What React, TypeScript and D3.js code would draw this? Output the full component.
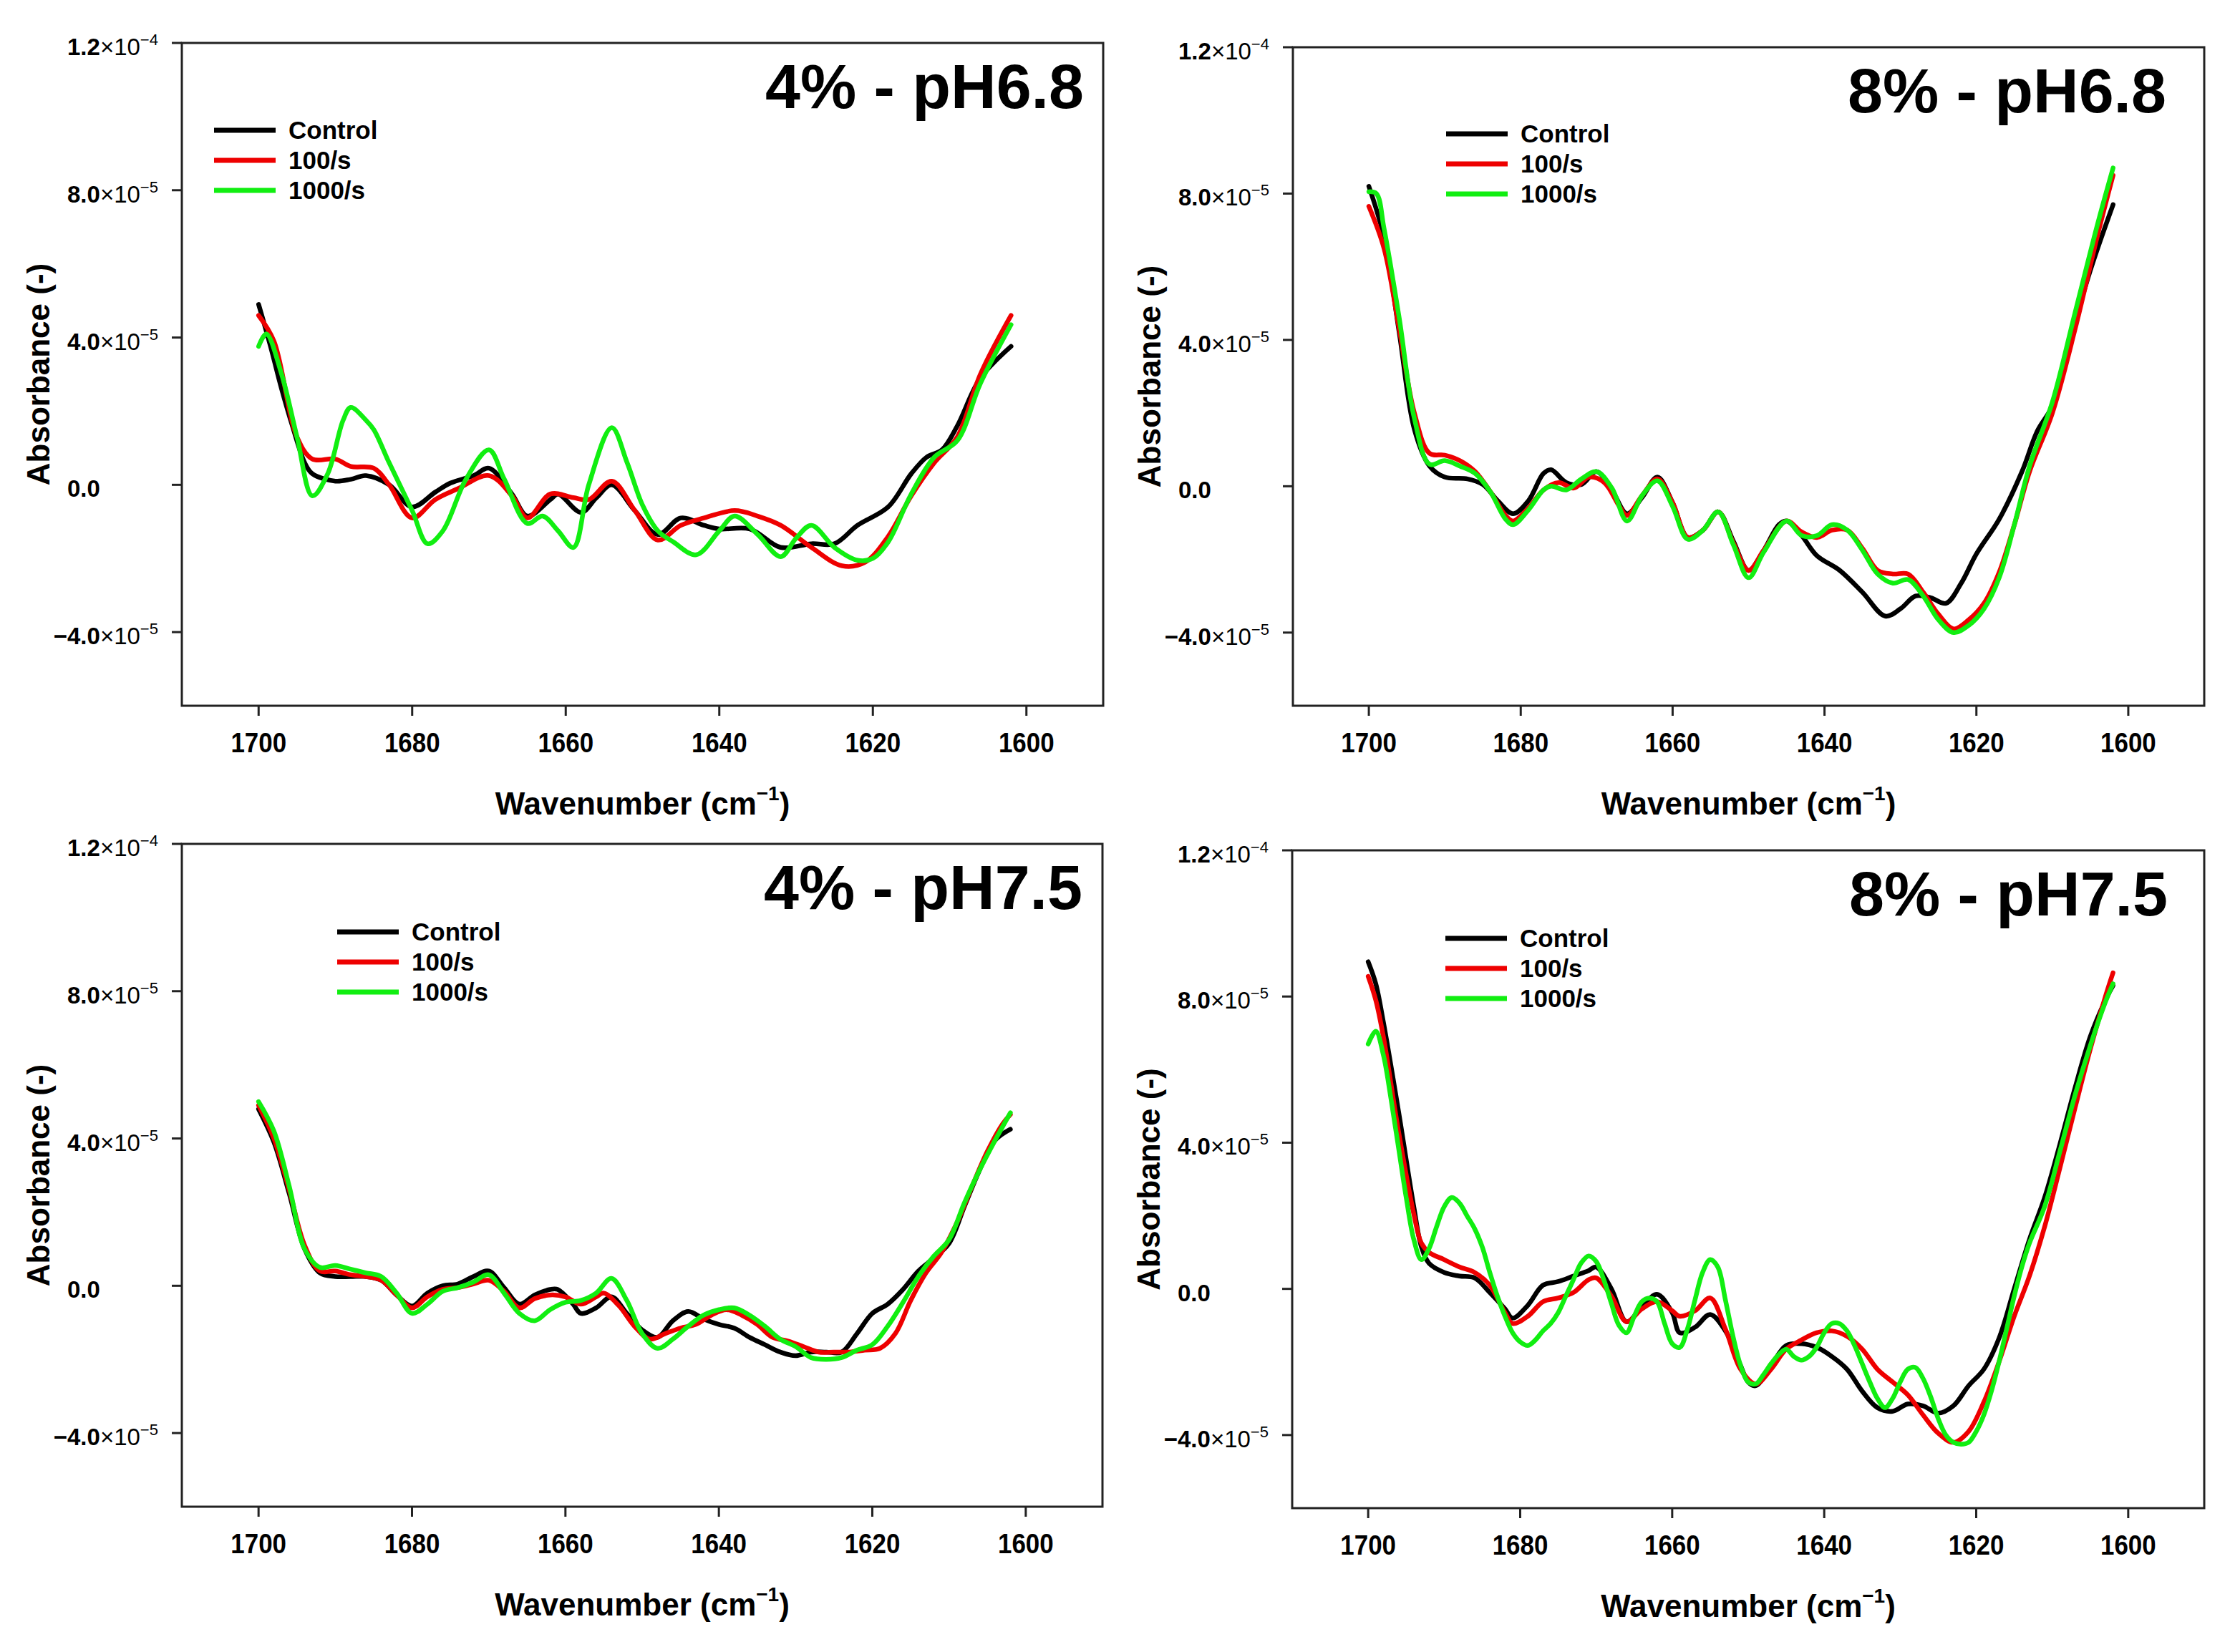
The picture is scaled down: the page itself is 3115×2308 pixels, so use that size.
import * as d3 from "d3";

// FTIR amide I spectra, absorbance in units of 1e-5
type Pt = [number, number];

const SERIES_NAMES = ["Control", "100/s", "1000/s"];
const PANEL_TITLES = ["4% - pH6.8", "8% - pH6.8", "4% - pH7.5", "8% - pH7.5"];

const X_TICKS = [1700, 1680, 1660, 1640, 1620, 1600];
const Y_TICKS = [-4, 0, 4, 8, 12];
const Y_MANTISSA = ["4.0", "0.0", "4.0", "8.0", "1.2"];
const Y_NEGATIVE = [true, false, false, false, false];
const Y_EXPONENT = ["−5", "", "−5", "−5", "−4"];

// 4% - pH6.8
const tlControl: Pt[] = [
  [1700, 4.9], [1698.5, 3.8], [1697, 2.6], [1695.6, 1.6], [1694, 0.6], [1693, 0.3],
  [1690, 0.1], [1688, 0.15], [1686, 0.25], [1683, 0.0], [1680, -0.6], [1677, -0.2],
  [1675, 0.05], [1672, 0.25], [1670, 0.45], [1667, -0.25], [1665, -0.85], [1662, -0.4],
  [1661, -0.25], [1658, -0.75], [1656, -0.35], [1654, 0.0], [1651, -0.7], [1648, -1.35],
  [1645, -0.9], [1642, -1.1], [1640, -1.2], [1636, -1.2], [1632, -1.7], [1628, -1.6],
  [1625, -1.6], [1622, -1.1], [1618, -0.6], [1615, 0.3], [1613, 0.75], [1611, 0.95],
  [1609, 1.6], [1606, 2.9], [1602, 3.76],
];
const tl100: Pt[] = [
  [1700, 4.6], [1698, 3.9], [1695, 1.3], [1693, 0.7], [1690, 0.7], [1688, 0.5],
  [1685, 0.45], [1683, 0.0], [1680, -0.9], [1677, -0.4], [1674, -0.1], [1670, 0.25],
  [1667, -0.3], [1665, -0.9], [1662, -0.25], [1659, -0.35], [1657, -0.4], [1654, 0.1],
  [1651, -0.7], [1648, -1.5], [1645, -1.1], [1642, -0.9], [1638, -0.7], [1635, -0.85],
  [1632, -1.1], [1628, -1.7], [1624, -2.2], [1621, -2.1], [1618, -1.4], [1615, -0.3],
  [1612, 0.6], [1609, 1.3], [1606, 3.0], [1602, 4.6],
];
const tl1000: Pt[] = [
  [1700, 3.76], [1699, 4.1], [1697, 3.0], [1695, 1.3], [1693, -0.3], [1691, 0.3],
  [1689, 1.75], [1688, 2.1], [1686, 1.75], [1685, 1.5], [1683, 0.6], [1680, -0.7],
  [1678, -1.6], [1676, -1.25], [1673, 0.15], [1670, 0.95], [1668, 0.15], [1665, -1.05],
  [1663, -0.85], [1661, -1.25], [1659, -1.7], [1657, 0.0], [1654, 1.55], [1652, 0.6],
  [1650, -0.55], [1648, -1.25], [1646, -1.55], [1643, -1.9], [1640, -1.25], [1638, -0.85],
  [1635, -1.35], [1632, -1.95], [1630, -1.45], [1628, -1.1], [1625, -1.7], [1622, -2.05],
  [1620, -2.0], [1618, -1.55], [1615, -0.25], [1612, 0.75], [1609, 1.2], [1606, 2.75],
  [1602, 4.35],
];

// 8% - pH6.8
const trControl: Pt[] = [
  [1700, 8.2], [1698, 6.8], [1696, 4.2], [1694, 1.55], [1692, 0.55], [1690, 0.25],
  [1687, 0.2], [1685, 0.05], [1683, -0.4], [1681, -0.75], [1679, -0.4], [1677, 0.35],
  [1676, 0.45], [1674, 0.1], [1672, 0.05], [1670, 0.4], [1668, -0.1], [1666, -0.75],
  [1664, -0.3], [1662, 0.25], [1660, -0.45], [1658, -1.4], [1656, -1.2], [1654, -0.7],
  [1652, -1.5], [1650, -2.3], [1648, -1.75], [1646, -1.05], [1645, -0.95], [1643, -1.35],
  [1641, -1.9], [1638, -2.3], [1635, -2.9], [1632, -3.55], [1630, -3.35], [1628, -3.0],
  [1626, -3.05], [1624, -3.2], [1622, -2.65], [1620, -1.85], [1617, -0.9], [1614, 0.4],
  [1612, 1.5], [1610, 2.2], [1608, 3.75], [1605, 5.9], [1602, 7.7],
];
const tr100: Pt[] = [
  [1700, 7.65], [1698, 6.5], [1696, 4.3], [1694, 2.0], [1692, 0.9], [1690, 0.85],
  [1688, 0.7], [1686, 0.4], [1684, -0.15], [1682, -0.8], [1681, -0.95], [1679, -0.6],
  [1677, -0.1], [1675, 0.1], [1673, -0.05], [1671, 0.25], [1669, 0.1], [1667, -0.55],
  [1666, -0.8], [1664, -0.25], [1662, 0.2], [1660, -0.45], [1658, -1.4], [1656, -1.2],
  [1654, -0.7], [1652, -1.55], [1650, -2.3], [1648, -1.75], [1645, -0.95], [1643, -1.25],
  [1641, -1.4], [1639, -1.2], [1637, -1.2], [1635, -1.7], [1633, -2.3], [1631, -2.4],
  [1629, -2.4], [1627, -2.9], [1625, -3.5], [1623, -3.9], [1621, -3.65], [1619, -3.2],
  [1617, -2.35], [1615, -1.05], [1613, 0.4], [1610, 2.0], [1607, 4.3], [1604, 6.9],
  [1602, 8.5],
];
const tr1000: Pt[] = [
  [1700, 8.05], [1699, 8.0], [1698, 7.05], [1696, 4.6], [1694, 1.85], [1692, 0.6],
  [1690, 0.7], [1688, 0.55], [1686, 0.35], [1684, -0.15], [1682, -0.9], [1681, -1.05],
  [1679, -0.65], [1677, -0.1], [1676, 0.0], [1674, -0.1], [1672, 0.2], [1670, 0.4],
  [1668, -0.05], [1666, -0.95], [1664, -0.25], [1662, 0.15], [1660, -0.55], [1658, -1.45],
  [1656, -1.2], [1654, -0.7], [1652, -1.6], [1650, -2.5], [1648, -1.8], [1645, -0.95],
  [1643, -1.35], [1641, -1.35], [1639, -1.05], [1637, -1.2], [1635, -1.75], [1633, -2.4],
  [1631, -2.65], [1629, -2.55], [1627, -3.0], [1625, -3.65], [1623, -4.0], [1621, -3.8],
  [1619, -3.35], [1617, -2.5], [1615, -1.05], [1613, 0.55], [1610, 2.3], [1607, 4.75],
  [1604, 7.2], [1602, 8.7],
];

// 4% - pH7.5
const blControl: Pt[] = [
  [1700, 4.8], [1698, 3.9], [1696, 2.5], [1694, 1.0], [1692, 0.35], [1690, 0.25],
  [1688, 0.25], [1686, 0.25], [1684, 0.15], [1682, -0.25], [1680, -0.55], [1678, -0.2],
  [1676, 0.0], [1674, 0.05], [1672, 0.25], [1670, 0.4], [1668, -0.05], [1666, -0.5],
  [1664, -0.25], [1662, -0.1], [1661, -0.1], [1659, -0.5], [1658, -0.75], [1656, -0.6],
  [1654, -0.3], [1652, -0.75], [1650, -1.2], [1648, -1.4], [1646, -0.95], [1644, -0.7],
  [1642, -0.9], [1640, -1.05], [1638, -1.15], [1636, -1.4], [1634, -1.6], [1632, -1.8],
  [1630, -1.9], [1628, -1.8], [1626, -1.8], [1624, -1.8], [1622, -1.3], [1620, -0.75],
  [1618, -0.5], [1616, -0.1], [1614, 0.4], [1612, 0.75], [1610, 1.15], [1608, 2.15],
  [1606, 3.15], [1604, 3.95], [1602, 4.25],
];
const bl100: Pt[] = [
  [1700, 4.9], [1698, 4.0], [1696, 2.6], [1694, 1.1], [1692, 0.4], [1690, 0.4],
  [1688, 0.3], [1686, 0.25], [1684, 0.15], [1682, -0.25], [1680, -0.6], [1678, -0.3],
  [1676, -0.1], [1674, -0.05], [1672, 0.05], [1670, 0.15], [1668, -0.15], [1666, -0.6],
  [1664, -0.35], [1662, -0.25], [1660, -0.3], [1658, -0.5], [1656, -0.3], [1655, -0.2],
  [1653, -0.55], [1651, -1.1], [1649, -1.45], [1647, -1.3], [1645, -1.15], [1643, -1.05],
  [1641, -0.8], [1639, -0.65], [1637, -0.8], [1635, -1.05], [1633, -1.4], [1631, -1.5],
  [1629, -1.65], [1627, -1.8], [1625, -1.8], [1623, -1.8], [1621, -1.75], [1619, -1.7],
  [1617, -1.3], [1615, -0.4], [1613, 0.35], [1611, 0.9], [1609, 1.7], [1607, 2.7],
  [1605, 3.65], [1603, 4.4], [1602, 4.65],
];
const bl1000: Pt[] = [
  [1700, 5.0], [1698, 4.2], [1696, 2.7], [1694, 1.0], [1692, 0.5], [1690, 0.55],
  [1688, 0.45], [1686, 0.35], [1684, 0.25], [1682, -0.2], [1680, -0.75], [1678, -0.5],
  [1676, -0.15], [1674, -0.05], [1672, 0.1], [1670, 0.3], [1668, -0.2], [1666, -0.75],
  [1664, -0.95], [1662, -0.65], [1660, -0.45], [1658, -0.4], [1656, -0.2], [1654, 0.2],
  [1652, -0.4], [1650, -1.3], [1648, -1.7], [1646, -1.45], [1644, -1.1], [1642, -0.8],
  [1640, -0.65], [1638, -0.6], [1636, -0.8], [1634, -1.1], [1632, -1.45], [1630, -1.65],
  [1628, -1.95], [1626, -2.0], [1624, -1.95], [1622, -1.75], [1620, -1.6], [1618, -1.1],
  [1616, -0.45], [1614, 0.25], [1612, 0.8], [1610, 1.25], [1608, 2.25], [1606, 3.15],
  [1604, 3.95], [1602, 4.7],
];

// 8% - pH7.5
const brControl: Pt[] = [
  [1700, 8.95], [1699, 8.35], [1698, 7.3], [1696, 4.85], [1694, 2.25], [1693, 1.15],
  [1692, 0.7], [1690, 0.45], [1688, 0.35], [1686, 0.3], [1684, -0.1], [1682, -0.55],
  [1681, -0.8], [1679, -0.45], [1677, 0.1], [1675, 0.2], [1673, 0.35], [1671, 0.5],
  [1670, 0.6], [1668, 0.0], [1666, -0.9], [1664, -0.5], [1662, -0.15], [1660, -0.65],
  [1659, -1.2], [1657, -1.05], [1655, -0.7], [1653, -1.15], [1651, -2.1], [1650, -2.55],
  [1649, -2.65], [1647, -2.1], [1645, -1.55], [1643, -1.5], [1641, -1.6], [1639, -1.85],
  [1637, -2.2], [1635, -2.8], [1633, -3.25], [1631, -3.35], [1629, -3.15], [1627, -3.2],
  [1625, -3.4], [1623, -3.2], [1621, -2.65], [1619, -2.2], [1617, -1.35], [1615, 0.0],
  [1613, 1.35], [1611, 2.5], [1609, 3.95], [1607, 5.5], [1605, 6.9], [1603, 7.9],
  [1602, 8.3],
];
const br100: Pt[] = [
  [1700, 8.55], [1699, 7.9], [1698, 6.9], [1696, 4.3], [1694, 2.05], [1693, 1.25],
  [1692, 1.0], [1690, 0.8], [1688, 0.6], [1686, 0.45], [1684, 0.1], [1682, -0.65],
  [1681, -0.95], [1679, -0.75], [1677, -0.35], [1675, -0.25], [1673, -0.1], [1671, 0.25],
  [1670, 0.3], [1668, -0.2], [1666, -0.9], [1664, -0.55], [1662, -0.35], [1660, -0.6],
  [1659, -0.75], [1657, -0.6], [1655, -0.25], [1653, -1.1], [1651, -2.2], [1649, -2.6],
  [1647, -2.2], [1645, -1.65], [1643, -1.4], [1641, -1.2], [1639, -1.15], [1637, -1.3],
  [1635, -1.65], [1633, -2.2], [1631, -2.55], [1629, -2.9], [1627, -3.45], [1625, -3.95],
  [1623, -4.2], [1621, -3.9], [1619, -3.1], [1617, -2.0], [1615, -0.75], [1613, 0.35],
  [1611, 1.7], [1609, 3.3], [1607, 4.95], [1605, 6.55], [1603, 8.0], [1602, 8.65],
];
const br1000: Pt[] = [
  [1700, 6.7], [1699, 7.05], [1698, 6.4], [1697, 5.2], [1696, 3.85], [1695, 2.5],
  [1694, 1.35], [1693, 0.8], [1692, 1.1], [1691, 1.7], [1690, 2.25], [1689, 2.5],
  [1688, 2.35], [1687, 2.0], [1686, 1.65], [1685, 1.15], [1684, 0.45], [1683, -0.2],
  [1682, -0.75], [1681, -1.2], [1680, -1.45], [1679, -1.55], [1678, -1.4], [1677, -1.15],
  [1676, -0.95], [1675, -0.65], [1674, -0.2], [1673, 0.25], [1672, 0.7], [1671, 0.9],
  [1670, 0.75], [1669, 0.25], [1668, -0.4], [1667, -1.0], [1666, -1.2], [1665, -0.75],
  [1664, -0.35], [1663, -0.25], [1662, -0.35], [1661, -0.95], [1660, -1.5], [1659, -1.6],
  [1658, -1.1], [1657, -0.3], [1656, 0.45], [1655, 0.8], [1654, 0.6], [1653, -0.3],
  [1652, -1.3], [1651, -2.1], [1650, -2.55], [1649, -2.6], [1648, -2.35], [1647, -2.05],
  [1646, -1.8], [1645, -1.65], [1644, -1.85], [1643, -1.95], [1642, -1.85], [1641, -1.6],
  [1640, -1.2], [1639, -0.95], [1638, -0.95], [1637, -1.15], [1636, -1.55], [1635, -2.05],
  [1634, -2.55], [1633, -3.0], [1632, -3.25], [1631, -3.0], [1630, -2.55], [1629, -2.2],
  [1628, -2.15], [1627, -2.45], [1626, -2.95], [1625, -3.55], [1624, -4.0], [1623, -4.2],
  [1622, -4.25], [1621, -4.2], [1620, -3.9], [1619, -3.45], [1618, -2.8], [1617, -2.0],
  [1616, -1.1], [1615, -0.2], [1614, 0.6], [1613, 1.25], [1611, 2.25], [1609, 3.75],
  [1607, 5.3], [1605, 6.65], [1603, 7.85], [1602, 8.35],
];

const PANEL_DATA: Pt[][][] = [
  [tlControl, tl100, tl1000],
  [trControl, tr100, tr1000],
  [blControl, bl100, bl1000],
  [brControl, br100, br1000],
];

const COLORS = ["#000000", "#ee0000", "#11ee11"];
const FONT = "'Liberation Sans', Arial, Helvetica, sans-serif";

// frame boxes and text offsets (pixels)
const LAYOUT = [
  { left: 254, right: 1541, top: 60, bottom: 986, titleDx: -27, legendX: 299, legendY: 182 },
  { left: 1806, right: 3079, top: 66, bottom: 986, titleDx: -53, legendX: 2020, legendY: 187 },
  { left: 254, right: 1540, top: 1179, bottom: 2105, titleDx: -28, legendX: 471, legendY: 1302 },
  { left: 1805, right: 3079, top: 1188, bottom: 2107, titleDx: -51, legendX: 2019, legendY: 1311 },
];

type Box = (typeof LAYOUT)[number];

function Panel({ box, title, data }: { box: Box; title: string; data: Pt[][] }) {
  const x = d3.scaleLinear().domain([1710, 1590]).range([box.left, box.right]);
  const y = d3.scaleLinear().domain([-6, 12]).range([box.bottom, box.top]);
  const line = d3
    .line<Pt>()
    .x((d) => x(d[0]))
    .y((d) => y(d[1]))
    .curve(d3.curveCatmullRom.alpha(0.5));
  const labelX = box.left - 160;
  const midY = (box.top + box.bottom) / 2;
  const midX = (box.left + box.right) / 2;

  return (
    <g fontFamily={FONT}>
      {/* spectra */}
      {data.map((s, i) => (
        <path
          key={i}
          d={line(s) ?? ""}
          fill="none"
          stroke={COLORS[i]}
          strokeWidth={6.5}
          strokeLinejoin="round"
          strokeLinecap="round"
        />
      ))}
      {/* frame */}
      <rect
        x={box.left}
        y={box.top}
        width={box.right - box.left}
        height={box.bottom - box.top}
        fill="none"
        stroke="#222"
        strokeWidth={3}
      />
      {/* x axis */}
      {X_TICKS.map((t) => (
        <g key={t}>
          <line x1={x(t)} x2={x(t)} y1={box.bottom} y2={box.bottom + 14} stroke="#222" strokeWidth={3} />
          <text
            transform={`translate(${x(t)},${box.bottom + 65}) scale(0.92,1)`}
            textAnchor="middle"
            fontSize={38}
            fontWeight="bold"
          >
            {t}
          </text>
        </g>
      ))}
      <text x={midX} y={box.bottom + 152} textAnchor="middle" fontSize={44} fontWeight="bold">
        Wavenumber (cm
        <tspan fontSize={28} dy={-20}>−1</tspan>
        <tspan dy={20}>)</tspan>
      </text>
      {/* y axis */}
      {Y_TICKS.map((t, i) => (
        <g key={t}>
          <line x1={box.left - 14} x2={box.left} y1={y(t)} y2={y(t)} stroke="#222" strokeWidth={3} />
          {Y_NEGATIVE[i] && (
            <text x={labelX} y={y(t) + 17} textAnchor="end" fontSize={33} fontWeight="bold">
              −
            </text>
          )}
          <text x={labelX} y={y(t) + 17} fontSize={33}>
            <tspan fontWeight="bold">{Y_MANTISSA[i]}</tspan>
            {Y_EXPONENT[i] && (
              <>
                <tspan>×10</tspan>
                <tspan fontSize={22} dy={-14}>{Y_EXPONENT[i]}</tspan>
              </>
            )}
          </text>
        </g>
      ))}
      <text
        transform={`translate(${box.left - 185},${midY}) rotate(-90)`}
        textAnchor="middle"
        fontSize={44}
        fontWeight="bold"
      >
        Absorbance (-)
      </text>
      {/* title */}
      <text x={box.right + box.titleDx} y={box.top + 91} textAnchor="end" fontSize={88} fontWeight="bold">
        {title}
      </text>
      {/* legend */}
      {SERIES_NAMES.map((name, i) => (
        <g key={name}>
          <line
            x1={box.legendX}
            x2={box.legendX + 86}
            y1={box.legendY + i * 42}
            y2={box.legendY + i * 42}
            stroke={COLORS[i]}
            strokeWidth={7}
          />
          <text x={box.legendX + 104} y={box.legendY + i * 42 + 12} fontSize={35} fontWeight="bold">
            {name}
          </text>
        </g>
      ))}
    </g>
  );
}

export default function App() {
  return (
    <svg
      width={3115}
      height={2308}
      style={{ position: "absolute", left: 0, top: 0, background: "#fff" }}
    >
      <rect width={3115} height={2308} fill="#fff" />
      {LAYOUT.map((box, i) => (
        <Panel key={i} box={box} title={PANEL_TITLES[i]} data={PANEL_DATA[i]} />
      ))}
    </svg>
  );
}
